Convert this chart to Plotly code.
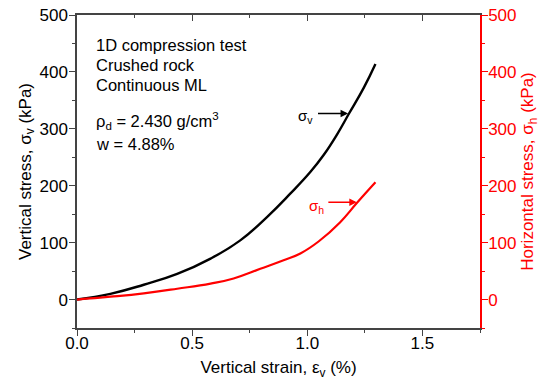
import plotly.graph_objects as go

strain_v = [0, 0.145, 0.29, 0.435, 0.58, 0.709, 0.825, 0.926, 1.013, 1.071, 1.129, 1.18, 1.245, 1.296]
stress_v = [0, 10, 26, 45, 72, 104, 145, 186, 224, 254, 290, 326, 372, 414]

strain_h = [0, 0.145, 0.29, 0.435, 0.58, 0.68, 0.796, 0.897, 0.97, 1.049, 1.143, 1.216, 1.296]
stress_h = [0, 5, 11, 19, 28, 37, 54, 69, 81, 102, 136, 170, 206]

x_ticks = [0.0, 0.5, 1.0, 1.5]
y_ticks = [0, 100, 200, 300, 400, 500]

FONT = "Liberation Sans, Arial, sans-serif"
AX = "#444444"
RED = "#ff0000"

fig = go.Figure()
fig.add_trace(go.Scatter(x=strain_v, y=stress_v, mode="lines", line=dict(color="black", width=2.4, shape="spline", smoothing=1.3), showlegend=False))
fig.add_trace(go.Scatter(x=strain_h, y=stress_h, mode="lines", line=dict(color=RED, width=2.2, shape="spline", smoothing=1.3), showlegend=False, yaxis="y2"))
fig.add_trace(go.Scatter(x=[0], y=[0], mode="markers", marker=dict(opacity=0), showlegend=False, xaxis="x2", hoverinfo="skip"))

fig.update_layout(
    width=546, height=387,
    margin=dict(l=77, r=66, t=15, b=59),
    paper_bgcolor="white", plot_bgcolor="white",
    font=dict(family=FONT, size=17, color="black"),
    xaxis=dict(
        range=[0, 1.75], tickvals=x_ticks, ticktext=["0.0", "0.5", "1.0", "1.5"], automargin=False,
        showgrid=False, zeroline=False, showline=True, linecolor=AX, linewidth=1.5,
        ticks="outside", ticklen=6, tickcolor=AX, tickwidth=1.2, ticklabelstandoff=-7,
        minor=dict(ticks="outside", dtick=0.25, ticklen=3, tickcolor=AX, tickwidth=1.2),
        title=dict(text="Vertical strain, ε<sub>v</sub> (%)", standoff=9, font=dict(size=17)),
        tickfont=dict(size=17),
    ),
    xaxis2=dict(
        range=[0, 1.75], overlaying="x", side="top", showticklabels=False, automargin=False,
        tickvals=x_ticks, showgrid=False, zeroline=False, showline=True, linecolor=AX, linewidth=1.5,
        ticks="inside", ticklen=6, tickcolor=AX, tickwidth=1.2,
        minor=dict(ticks="inside", dtick=0.25, ticklen=3, tickcolor=AX, tickwidth=1.2),
    ),
    yaxis=dict(
        range=[-50, 500], tickvals=y_ticks, automargin=False,
        showgrid=False, zeroline=False, showline=True, linecolor=AX, linewidth=1.5,
        ticks="outside", ticklen=6, tickcolor=AX, tickwidth=1.2, ticklabelstandoff=-2,
        minor=dict(ticks="outside", dtick=50, ticklen=3, tickcolor=AX, tickwidth=1.2),
        title=dict(text="Vertical stress, σ<sub>v</sub> (kPa)", standoff=4, font=dict(size=17)),
        tickfont=dict(size=17),
    ),
    yaxis2=dict(
        range=[-50, 500], tickvals=y_ticks, overlaying="y", side="right", automargin=False,
        showgrid=False, zeroline=False, showline=True, linecolor=RED, linewidth=1.5,
        ticks="outside", ticklen=6, tickcolor=RED, tickwidth=1.2, ticklabelstandoff=-3,
        minor=dict(ticks="outside", dtick=50, ticklen=3, tickcolor=RED, tickwidth=1.2),
        title=dict(text="Horizontal stress, σ<sub>h</sub> (kPa)", standoff=6, font=dict(size=17, color=RED)),
        tickfont=dict(size=17, color=RED),
    ),
)

info_lines = [
    ("1D compression test", 45),
    ("Crushed rock", 65),
    ("Continuous ML", 85),
    ("ρ<sub>d</sub> = 2.430 g/cm<sup>3</sup>", 121),
    ("w = 4.88%", 144),
]
for txt, ypx in info_lines:
    fig.add_annotation(
        text=txt, xref="paper", yref="paper",
        x=(94 - 77) / (546 - 77 - 66), y=1 - (ypx - 15) / (387 - 15 - 59),
        xanchor="left", yanchor="middle", showarrow=False, font=dict(size=16.5, color="black"),
    )

fig.add_annotation(text="σ<sub>v</sub>", x=1.035, y=322, xref="x", yref="y", xanchor="right", yanchor="middle",
                   showarrow=False, font=dict(size=15, color="black"))
fig.add_annotation(text="", x=1.177, y=327, ax=1.04, ay=327, xref="x", yref="y", axref="x", ayref="y",
                   showarrow=True, arrowhead=2, arrowsize=1, arrowwidth=1.5, arrowcolor="black", standoff=0)
fig.add_annotation(text="σ<sub>h</sub>", x=1.08, y=164, xref="x", yref="y", xanchor="right", yanchor="middle",
                   showarrow=False, font=dict(size=15, color=RED))
fig.add_annotation(text="", x=1.215, y=171, ax=1.085, ay=171, xref="x", yref="y", axref="x", ayref="y",
                   showarrow=True, arrowhead=2, arrowsize=1, arrowwidth=1.5, arrowcolor=RED, standoff=0)

fig.write_html("out.html")
